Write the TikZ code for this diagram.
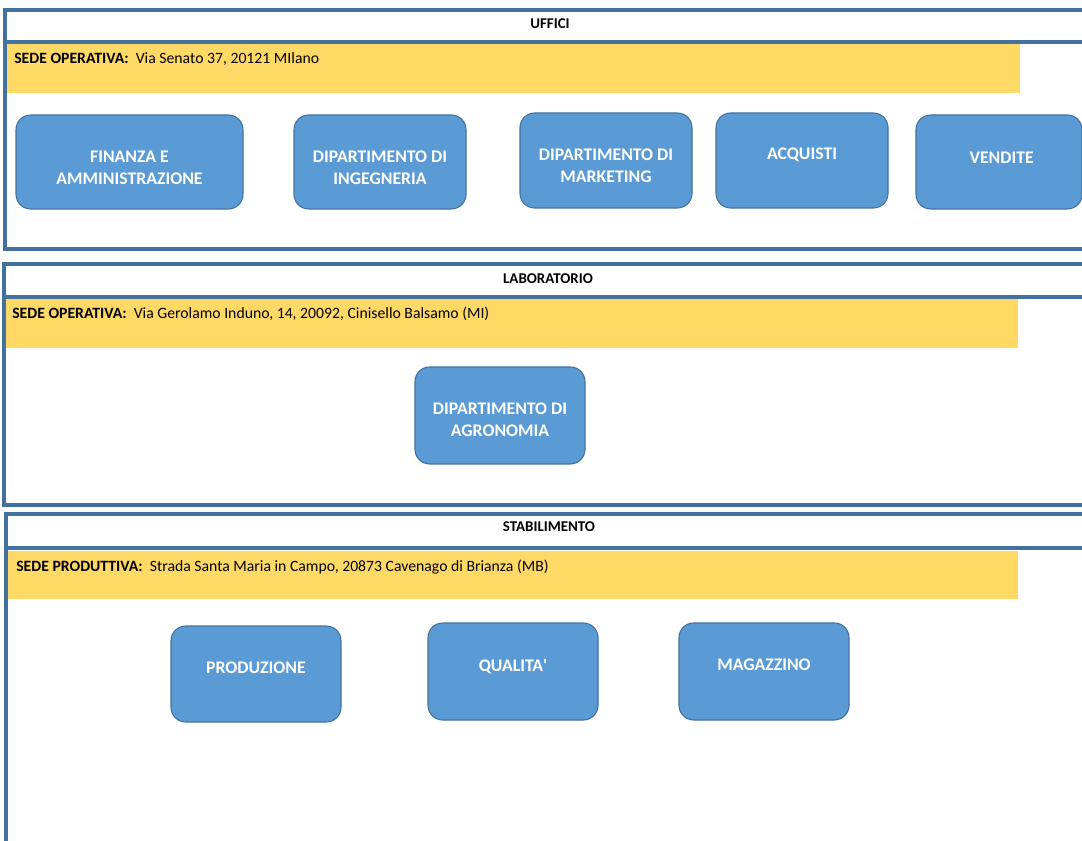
\documentclass[tikz,border=0pt]{standalone}
\usepackage{fontspec}
\setmainfont{Carlito}

\definecolor{frameblue}{RGB}{65,113,156}
\definecolor{unitblue}{RGB}{91,155,213}
\definecolor{bandyellow}{RGB}{255,217,102}

\tikzset{
  frame/.style={draw=frameblue, line width=2.3pt},
  band/.style={fill=bandyellow},
  header/.style={font=\bfseries\fontsize{11.2}{13}\selectfont},
  address/.style={anchor=west, inner sep=0, font=\fontsize{11.8}{14}\selectfont},
  unit/.style={draw=frameblue, fill=unitblue, rounded corners=11pt, line width=0.8pt,
    minimum width=129pt, minimum height=71.25pt, inner sep=0},
  caption/.style={text=white, align=center, inner sep=0,
    font=\bfseries\fontsize{13.3}{16.5}\selectfont}
}

\begin{document}
\begin{tikzpicture}[x=0.75pt, y=-0.75pt]
      \clip (0, 0) rectangle (1082, 841);
      \fill[white] (0, 0) rectangle (1082, 841);

      % uffici
      \fill[band] (7, 44) rectangle (1020, 93);
      \draw[frame] (1090, 10) -- (5, 10) -- (5, 249) -- (1090, 249);
      \draw[frame] (5, 42) -- (1090, 42);
      \draw (550, 24) node[header] (hdr1) {UFFICI};
      \draw (14, 59) node[address] (addr1) {\textbf{SEDE OPERATIVA:}\ \ Via Senato 37, 20121 MIlano};

      \node[unit, minimum width=170.25pt, minimum height=70.5pt, label={[caption, yshift=-4.5pt]center:FINANZA E\\AMMINISTRAZIONE}] (finanza) at (129.5, 162) {};
      \node[unit, minimum height=70.5pt, label={[caption, yshift=-4.5pt]center:DIPARTIMENTO DI\\INGEGNERIA}] (ingegneria) at (380, 162) {};
      \node[unit, label={[caption, yshift=-4pt]center:DIPARTIMENTO DI\\MARKETING}] (marketing) at (606, 160.5) {};
      \node[unit, label={[caption, yshift=4pt]center:ACQUISTI}] (acquisti) at (802, 160.5) {};
      \node[unit, minimum width=124.5pt, minimum height=70.5pt, label={[caption, yshift=3.5pt, xshift=2pt]center:VENDITE}] (vendite) at (999, 162) {};

      % laboratorio
      \fill[band] (6, 299) rectangle (1018, 348);
      \draw[frame] (1090, 264) -- (4, 264) -- (4, 505) -- (1090, 505);
      \draw[frame] (4, 297) -- (1090, 297);
      \draw (548, 279) node[header] (hdr2) {LABORATORIO};
      \draw (12, 314) node[address] (addr2) {\textbf{SEDE OPERATIVA:}\ \ Via Gerolamo Induno, 14, 20092, Cinisello Balsamo (MI)};

      \node[unit, minimum width=127.5pt, minimum height=72.75pt, label={[caption, yshift=-3pt]center:DIPARTIMENTO DI\\AGRONOMIA}] (agronomia) at (500, 415.5) {};

      % stabilimento
      \fill[band] (7, 551) rectangle (1018, 599);
      \draw[frame] (1090, 514) -- (6, 514) -- (6, 850);
      \draw[frame] (6, 548) -- (1090, 548);
      \draw (549, 527) node[header] (hdr3) {STABILIMENTO};
      \draw (16, 567) node[address] (addr3) {\textbf{SEDE PRODUTTIVA:}\ \ Strada Santa Maria in Campo, 20873 Cavenago di Brianza (MB)};

      \node[unit, minimum width=127.5pt, minimum height=72pt, label={[caption, yshift=5pt]center:PRODUZIONE}] (produzione) at (256, 674) {};
      \node[unit, minimum width=127.5pt, minimum height=72.75pt, label={[caption, yshift=4pt]center:QUALITA\textquotesingle}] (qualita) at (513, 671.5) {};
      \node[unit, minimum width=127.5pt, minimum height=72.75pt, label={[caption, yshift=5pt]center:MAGAZZINO}] (magazzino) at (764, 671.5) {};
    \end{tikzpicture}
\end{document}
